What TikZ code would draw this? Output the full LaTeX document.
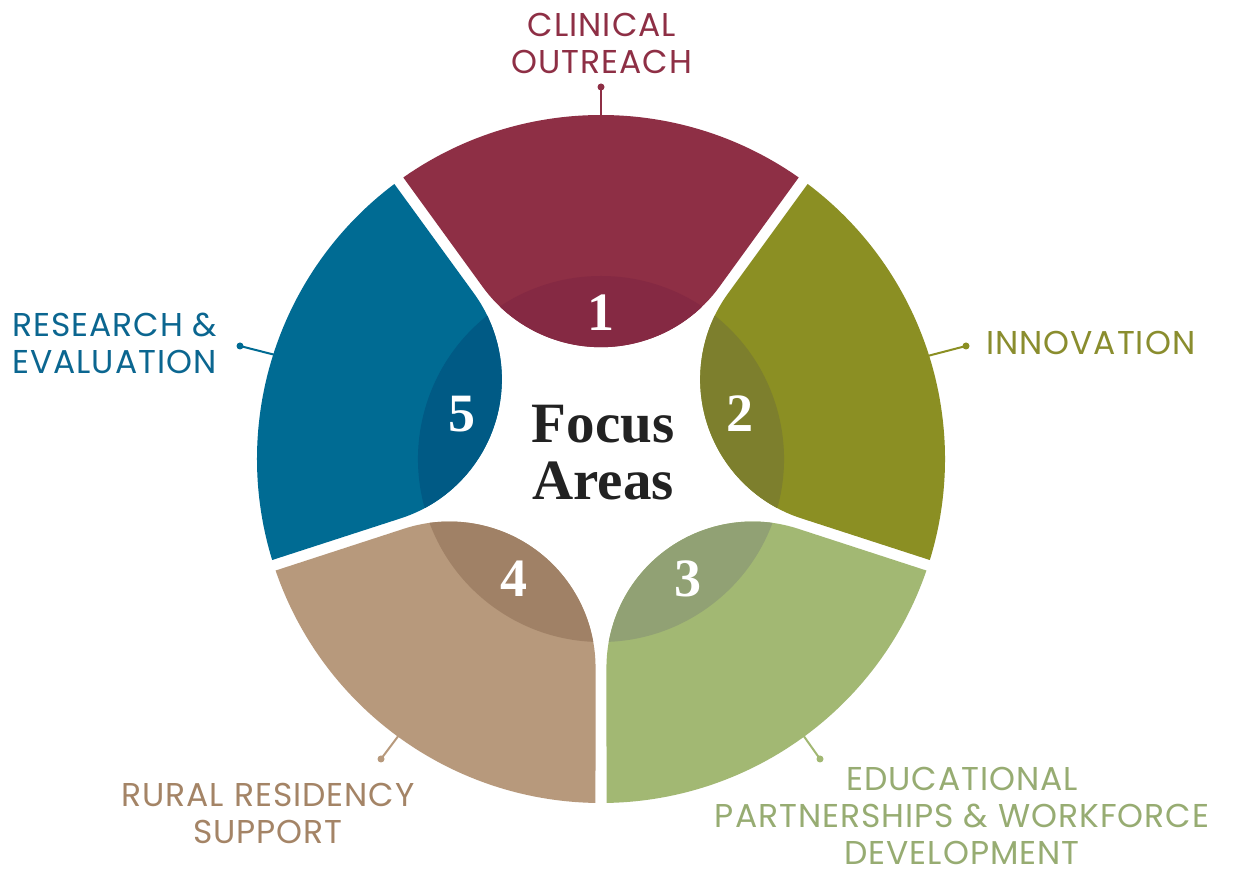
\documentclass[tikz,border=0pt]{standalone}
\usepackage{fontspec}
\setmainfont{Poppins}[LetterSpace=3]
\newfontfamily\focusfont{Liberation Serif}
\usetikzlibrary{calc}
\definecolor{cA}{HTML}{8E2F45}
\definecolor{dA}{HTML}{852943}
\definecolor{cB}{HTML}{8B8F23}
\definecolor{dB}{HTML}{7D7F2D}
\definecolor{cC}{HTML}{A2B873}
\definecolor{dC}{HTML}{91A174}
\definecolor{cD}{HTML}{B7997C}
\definecolor{dD}{HTML}{A08166}
\definecolor{cE}{HTML}{006B93}
\definecolor{dE}{HTML}{005A85}
\definecolor{tA}{HTML}{8E2F45}
\definecolor{tB}{HTML}{8A8D2E}
\definecolor{tC}{HTML}{97AC72}
\definecolor{tD}{HTML}{A48466}
\definecolor{tE}{HTML}{0B6690}
\definecolor{ink}{HTML}{222222}
\def\segpath{($(258,0)+(234:146.2)$) -- (-35.08:344) arc[start angle=-35.08, end angle=35.08, radius=344] -- ($(258,0)+(126:146.2)$) arc[start angle=126, end angle=234, radius=146.2] -- cycle}
\begin{document}
\begin{tikzpicture}[x=1pt,y=1pt,
  dotn/.style={circle, inner sep=0pt, minimum size=7pt},
  conn/.style={line width=2pt},
  lab/.style={inner sep=0pt, font=\fontsize{33}{37}\selectfont},
  num/.style={inner sep=0pt, text=white, font=\focusfont\bfseries\fontsize{54}{54}\selectfont},
  ctext/.style={inner sep=0pt, text=ink, align=center, font=\focusfont\bfseries\fontsize{57}{57}\selectfont}]
\fill[white] (0,0) rectangle (1237,869);
\useasboundingbox (0,0) rectangle (1237,869);
\coordinate (ctr) at (601,410);
% segments
\foreach \ang/\mc/\dc in {90/cA/dA, 18/cB/dB, -54/cC/dC, -126/cD/dD, 162/cE/dE}{
  \begin{scope}[shift={(ctr)}, rotate=\ang]
    \fill[\mc] \segpath;
    \begin{scope}
      \clip \segpath;
      \fill[\dc] (0,0) circle[radius=183];
    \end{scope}
  \end{scope}
}
% numbers
\node[num] (n1) at ($(ctr)+(90:146)$) {1};
\node[num] (n2) at ($(ctr)+(18:146)$) {2};
\node[num] (n3) at ($(ctr)+(-54:148)$) {3};
\node[num] (n4) at ($(ctr)+(-126:148)$) {4};
\node[num] (n5) at ($(ctr)+(162:146)$) {5};
% centre text
\node[ctext, anchor=north] (focus) at (603,464) {Focus\\Areas};
% rim points
\coordinate (e1) at ($(ctr)+(90:343)$);
\coordinate (e2) at ($(ctr)+(17.5:343)$);
\coordinate (e3) at ($(ctr)+(-53.8:342)$);
\coordinate (e4) at ($(ctr)+(-126.2:342)$);
\coordinate (e5) at ($(ctr)+(162.3:343)$);
% dots
\node[dotn, fill=cA] (d1) at (601,782) {};
\node[dotn, fill=cB] (d2) at (966,523) {};
\node[dotn, fill=cC] (d3) at (820,110) {};
\node[dotn, fill=cD] (d4) at (381,110) {};
\node[dotn, fill=cE] (d5) at (240,523) {};
\draw[conn, cA] (d1.center) -- (e1);
\draw[conn, cB] (d2.center) -- (e2);
\draw[conn, cC] (d3.center) -- (e3);
\draw[conn, cD] (d4.center) -- (e4);
\draw[conn, cE] (d5.center) -- (e5);
% labels
\node[lab, text=tA, align=center, anchor=north] (l1) at (602,856) {CLINICAL\\OUTREACH};
\node[lab, text=tB, align=left, anchor=north west] (l2) at (986,538) {INNOVATION};
\node[lab, text=tC, align=center, anchor=north] (l3) at (962,102) {EDUCATIONAL\\PARTNERSHIPS \& WORKFORCE\\DEVELOPMENT};
\node[lab, text=tD, align=center, anchor=north] (l4) at (268,86) {RURAL RESIDENCY\\SUPPORT};
\node[lab, text=tE, align=left, anchor=north west] (l5) at (12,556) {RESEARCH \&\\EVALUATION};
\end{tikzpicture}
\end{document}
